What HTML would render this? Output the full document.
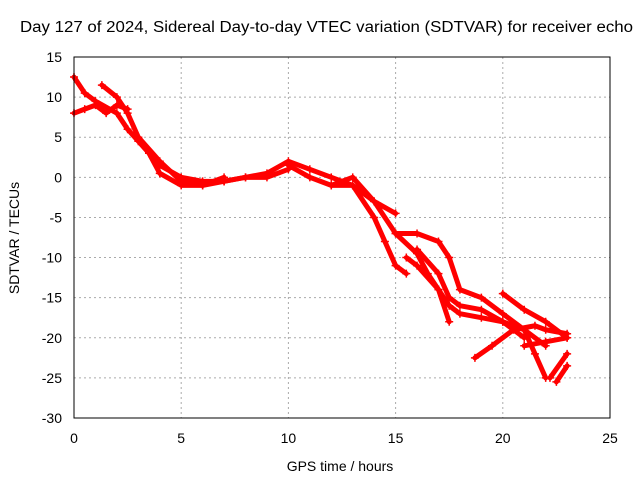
<!DOCTYPE html>
<html><head><meta charset="utf-8"><style>
body{margin:0;background:#fff;}
svg text{font-family:"Liberation Sans",sans-serif;font-size:14px;fill:#000;}
</style></head><body>
<svg id="chart" width="640" height="480">
<text x="20" y="32" style="font-size:15.5px" textLength="613" lengthAdjust="spacingAndGlyphs">Day 127 of 2024, Sidereal Day-to-day VTEC variation (SDTVAR) for receiver echo</text>
<text x="340" y="471" text-anchor="middle">GPS time / hours</text>
<text transform="translate(19,238) rotate(-90)" text-anchor="middle">SDTVAR / TECUs</text>
<g id="grid"></g><g id="marks"></g>
<rect x="74" y="57" width="536" height="361" fill="none" stroke="#000"/>
</svg>
<script>
const xTicks=[0,5,10,15,20,25];
const yTicks=[15,10,5,0,-5,-10,-15,-20,-25,-30];
const tracks=[
[[0,12.5],[0.5,10.5],[1,9.5],[2,8],[2.5,6],[3,4.5],[3.5,3],[4,1.5],[5,0],[6,-0.5],[7,-0.5],[8,0],[9,0.5],[10,2],[11,1],[12,0],[13,-1],[14,-3],[15,-4.5]],
[[0,8],[0.5,8.5],[1,9],[1.5,8],[2,9],[2.5,8.5]],
[[1.3,11.5],[2,10],[2.5,8],[3,5],[4,2],[5,-0.5],[6,-1],[7,-0.5],[8,0],[9,0],[10,1]],
[[3.5,3],[4,0.5],[5,-1],[6,-1],[7,0]],
[[10,1.5],[11,0],[12,-1],[13,-1],[14,-5],[14.5,-8],[15,-11],[15.5,-12]],
[[12,-1],[13,0],[14,-3],[15,-7],[16,-9.5],[16.5,-12],[17,-14],[17.5,-18]],
[[15,-7],[16,-7],[17,-8],[17.5,-10],[18,-14],[19,-15],[20,-17],[21,-19],[22,-21]],
[[15.5,-10],[16,-11],[17,-14],[17.5,-16],[18,-17],[19,-17.5],[20,-18],[21,-19],[21.5,-22],[22,-25]],
[[16,-9],[17,-12],[17.5,-15],[18,-16],[19,-16.5],[20,-18],[21,-20]],
[[20,-14.5],[21,-16.5],[22,-18],[23,-20]],
[[18.7,-22.5],[19.5,-21],[20.5,-19],[21.5,-18.5],[22,-19],[23,-19.5]],
[[21,-21],[22,-20.5],[23,-20]],
[[22.2,-25],[23,-22]],
[[22.5,-25.5],[23,-23.5]]
];
const NS="http://www.w3.org/2000/svg";
const X=v=>74+v*536/25, Y=v=>57+(15-v)*361/45;
const grid=document.getElementById('grid'), marks=document.getElementById('marks');
function mk(tag,a,p){const e=document.createElementNS(NS,tag);for(const k in a)e.setAttribute(k,a[k]);p.appendChild(e);return e;}
xTicks.forEach(t=>{
 const l=mk('line',{x1:X(t),x2:X(t),y1:57,y2:418,stroke:'#aaa','stroke-dasharray':'2,3'},grid);
 
 
 const tx=mk('text',{x:X(t),y:443,'text-anchor':'middle'},grid);tx.textContent=t;
 
 
});
yTicks.forEach(t=>{
 const l=mk('line',{x1:74,x2:610,y1:Y(t),y2:Y(t),stroke:'#aaa','stroke-dasharray':'2,3'},grid);
 
 
 const tx=mk('text',{x:62,y:Y(t)+5,'text-anchor':'end'},grid);tx.textContent=t;
 
 
});
tracks.forEach(tr=>{
 const pl=mk('polyline',{points:tr.map(p=>X(p[0])+','+Y(p[1])).join(' '),fill:'none',stroke:'#f00','stroke-width':5,'stroke-linejoin':'round','stroke-linecap':'round'},marks);
 
 
 tr.forEach(p=>{
  const x=X(p[0]),y=Y(p[1]);
  const m=mk('path',{d:`M${x-4},${y}H${x+4}M${x},${y-4}V${y+4}`,stroke:'#f00','stroke-width':1.5},marks);
  
  
 });
});
</script>
</body></html>
